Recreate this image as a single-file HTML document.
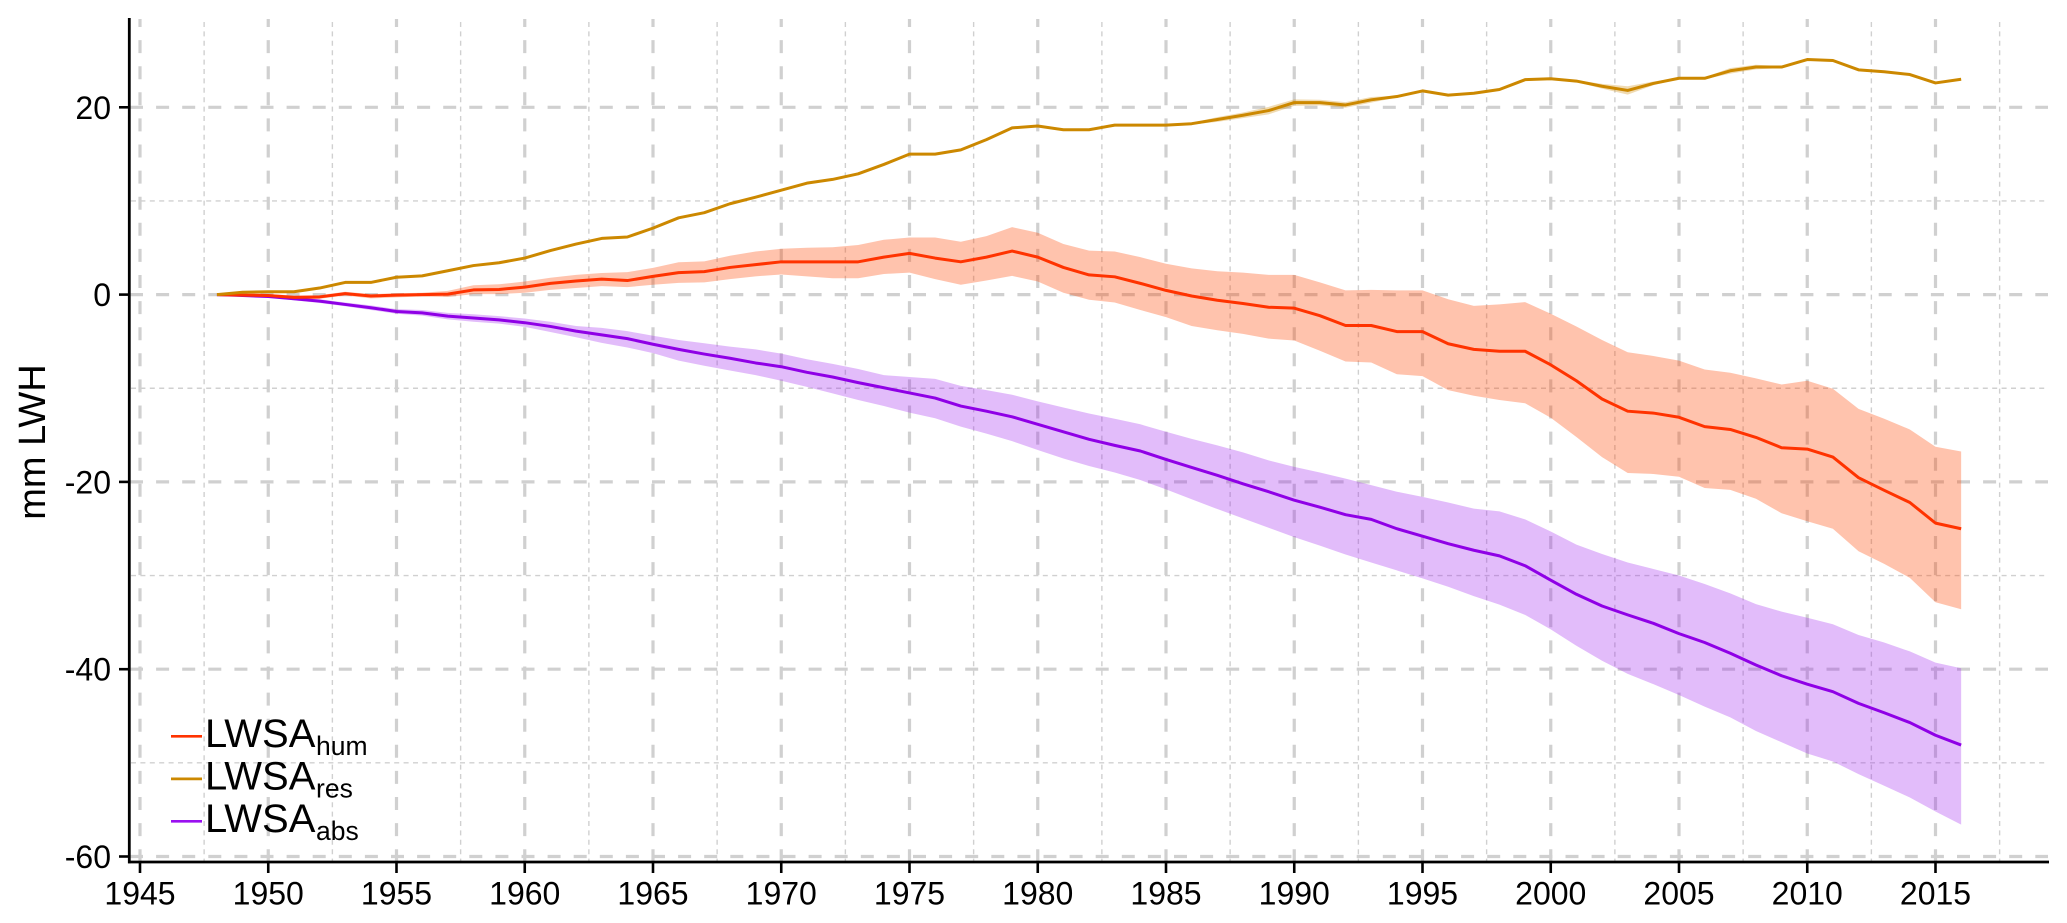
<!DOCTYPE html>
<html lang="en">
<head>
<meta charset="utf-8">
<title>LWSA chart</title>
<style>
html,body{margin:0;padding:0;background:#fff;width:2067px;height:923px;overflow:hidden}
svg{display:block}
text{font-family:"Liberation Sans",Arial,sans-serif;fill:#000}
</style>
</head>
<body>
<svg id="chart" xmlns="http://www.w3.org/2000/svg" width="2067" height="923" viewBox="0 0 2067 923">
  <g id="grid"></g>
  <g id="bands"></g>
  <g id="lines"></g>
  <g id="axes"></g>
  <text transform="translate(45,442) rotate(-90)" text-anchor="middle" font-size="38">mm LWH</text>
  <g>
    <g>
      <line x1="171" x2="202" y1="736.3" y2="736.3" stroke="#ff3300" stroke-width="2.7"/>
      <text x="205" y="747" font-size="40">LWSA</text>
      <text x="316" y="755" font-size="26.5">hum</text>
    </g>
    <g>
      <line x1="171" x2="202" y1="778.9" y2="778.9" stroke="#cc8800" stroke-width="2.7"/>
      <text x="205" y="789.5" font-size="40">LWSA</text>
      <text x="316" y="797.5" font-size="26.5">res</text>
    </g>
    <g>
      <line x1="171" x2="202" y1="821.3" y2="821.3" stroke="#9a10f0" stroke-width="2.7"/>
      <text x="205" y="832" font-size="40">LWSA</text>
      <text x="316" y="840" font-size="26.5">abs</text>
    </g>
  </g>
</svg>
<script>
const years = [1948,1949,1950,1951,1952,1953,1954,1955,1956,1957,1958,1959,1960,1961,1962,1963,1964,1965,1966,1967,1968,1969,1970,1971,1972,1973,1974,1975,1976,1977,1978,1979,1980,1981,1982,1983,1984,1985,1986,1987,1988,1989,1990,1991,1992,1993,1994,1995,1996,1997,1998,1999,2000,2001,2002,2003,2004,2005,2006,2007,2008,2009,2010,2011,2012,2013,2014,2015,2016];

const humMean = [0,-.05,-.1,-.3,-.25,.1,-.15,-.05,0,.05,.5,.55,.8,1.2,1.45,1.65,1.5,1.95,2.35,2.45,2.9,3.2,3.5,3.5,3.5,3.5,4,4.4,3.9,3.5,4,4.65,4,2.9,2.1,1.9,1.2,.45,-.15,-.6,-.95,-1.35,-1.45,-2.25,-3.3,-3.3,-3.95,-3.95,-5.25,-5.85,-6.05,-6.05,-7.5,-9.2,-11.15,-12.45,-12.65,-13.1,-14.1,-14.4,-15.25,-16.35,-16.5,-17.35,-19.55,-20.9,-22.2,-24.4,-25];
const humUpper = [0,.02,.05,-.1,-.05,.3,.05,.15,.2,.4,1,1.1,1.4,1.8,2.1,2.3,2.4,2.85,3.45,3.55,4.15,4.6,4.9,5,5.05,5.3,5.85,6.1,6.1,5.65,6.25,7.2,6.6,5.4,4.7,4.6,4,3.3,2.8,2.5,2.35,2.1,2.1,1.3,.45,.5,.45,.45,-.5,-1.2,-1.05,-.8,-2.05,-3.4,-4.85,-6.15,-6.55,-7.05,-8,-8.35,-8.95,-9.6,-9.2,-10.05,-12.2,-13.25,-14.4,-16.25,-16.75];
const humLower = [0,-.1,-.25,-.5,-.45,-.1,-.4,-.3,-.2,-.25,.05,.05,.2,.5,.7,.9,.8,1.05,1.25,1.3,1.65,1.95,2.15,1.95,1.75,1.75,2.2,2.35,1.65,1.05,1.5,2,1.4,.2,-.55,-.85,-1.65,-2.4,-3.35,-3.8,-4.2,-4.7,-4.9,-6,-7.15,-7.25,-8.5,-8.7,-10.2,-10.8,-11.25,-11.6,-13.15,-15.2,-17.35,-19.05,-19.15,-19.45,-20.65,-20.85,-21.8,-23.35,-24.2,-25,-27.4,-28.75,-30.25,-32.85,-33.6];

const resMean = [0,.25,.3,.3,.7,1.3,1.3,1.85,2,2.55,3.1,3.4,3.9,4.7,5.4,6,6.15,7.1,8.2,8.75,9.7,10.4,11.15,11.9,12.3,12.9,13.9,15,15,15.45,16.55,17.8,18,17.6,17.6,18.1,18.1,18.1,18.25,18.7,19.15,19.65,20.5,20.5,20.25,20.8,21.15,21.75,21.3,21.5,21.9,22.95,23.05,22.8,22.25,21.8,22.55,23.1,23.1,23.9,24.3,24.3,25.1,25,24,23.8,23.5,22.6,23];
const resUpper = [0,.3,.35,.35,.75,1.35,1.35,1.9,2.05,2.6,3.15,3.45,3.95,4.75,5.45,6.05,6.2,7.15,8.25,8.8,9.75,10.45,11.2,11.95,12.35,12.95,13.95,15.1,15.1,15.5,16.6,17.85,18.05,17.65,17.65,18.15,18.15,18.15,18.35,18.95,19.45,20.05,20.85,20.8,20.55,21.1,21.25,21.8,21.4,21.6,21.95,23,23.15,22.9,22.5,22.25,22.75,23.15,23.2,24.2,24.55,24.4,25.2,25.05,24.05,23.85,23.55,22.65,23.05];
const resLower = [0,.2,.25,.25,.65,1.25,1.25,1.8,1.95,2.5,3.05,3.35,3.85,4.65,5.35,5.95,6.1,7.05,8.15,8.7,9.65,10.35,11.1,11.85,12.25,12.85,13.85,14.9,14.9,15.4,16.5,17.75,17.95,17.55,17.55,18.05,18.05,18.05,18.15,18.45,18.85,19.25,20.15,20.2,19.95,20.5,21.05,21.7,21.2,21.4,21.85,22.9,22.95,22.7,22,21.35,22.35,23.05,23,23.6,24.05,24.2,25,24.95,23.95,23.75,23.45,22.55,22.95];

const absMean = [0,-.1,-.2,-.45,-.7,-1.05,-1.4,-1.8,-1.95,-2.3,-2.5,-2.7,-3,-3.4,-3.9,-4.3,-4.7,-5.3,-5.85,-6.35,-6.8,-7.3,-7.7,-8.3,-8.8,-9.4,-9.95,-10.5,-11.05,-11.9,-12.45,-13.05,-13.85,-14.65,-15.45,-16.1,-16.7,-17.6,-18.45,-19.3,-20.2,-21.05,-21.95,-22.7,-23.5,-24,-25,-25.8,-26.6,-27.3,-27.9,-28.95,-30.5,-32,-33.25,-34.2,-35.1,-36.2,-37.15,-38.3,-39.55,-40.7,-41.6,-42.4,-43.65,-44.65,-45.7,-47.05,-48.1];
const absUpper = [0,-.05,-.15,-.3,-.5,-.85,-1.15,-1.55,-1.65,-1.95,-2.1,-2.3,-2.55,-2.9,-3.35,-3.55,-3.9,-4.4,-4.85,-5.2,-5.55,-5.85,-6.3,-6.9,-7.4,-7.95,-8.6,-8.8,-9,-9.75,-10.2,-10.7,-11.4,-12.05,-12.7,-13.25,-13.85,-14.65,-15.4,-16.1,-16.85,-17.7,-18.4,-19,-19.65,-20.35,-21.05,-21.6,-22.2,-22.85,-23.15,-24,-25.3,-26.7,-27.7,-28.6,-29.3,-30,-30.9,-31.9,-33.05,-33.85,-34.5,-35.2,-36.35,-37.15,-38.1,-39.3,-39.9];
const absLower = [0,-.15,-.3,-.6,-.9,-1.25,-1.65,-2.05,-2.25,-2.65,-2.9,-3.1,-3.45,-4,-4.55,-5.15,-5.65,-6.25,-7.05,-7.6,-8.1,-8.6,-9.2,-9.85,-10.55,-11.25,-11.9,-12.6,-13.2,-14.1,-14.85,-15.65,-16.6,-17.5,-18.3,-19,-19.8,-20.8,-21.85,-22.9,-23.9,-24.9,-25.9,-26.8,-27.75,-28.6,-29.45,-30.3,-31.2,-32.2,-33.1,-34.2,-35.75,-37.5,-39.1,-40.5,-41.6,-42.75,-44,-45.15,-46.6,-47.8,-49,-49.85,-51.2,-52.45,-53.7,-55.2,-56.6];

const xTickLabels = [1945,1950,1955,1960,1965,1970,1975,1980,1985,1990,1995,2000,2005,2010,2015];
const xMinorTicks = [1947.5,1952.5,1957.5,1962.5,1967.5,1972.5,1977.5,1982.5,1987.5,1992.5,1997.5,2002.5,2007.5,2012.5,2017.5];
const yTickLabels = [20,0,-20,-40,-60];
const yMinorTicks = [10,-10,-30,-50];

const NS = 'http://www.w3.org/2000/svg';
function xScale(year){ return 140 + (year - 1945) * 25.65; }
function yScale(v){ return 294.6 - v * 9.365; }

function mk(parent, tag, attrs){
  const el = document.createElementNS(NS, tag);
  for (const k in attrs) el.setAttribute(k, attrs[k]);
  parent.appendChild(el);
  return el;
}
function linePath(vals){
  return vals.map((v,i)=>(i?'L':'M')+xScale(years[i]).toFixed(2)+' '+yScale(v).toFixed(2)).join('');
}
function bandPath(up, lo){
  const a = up.map((v,i)=>(i?'L':'M')+xScale(years[i]).toFixed(2)+' '+yScale(v).toFixed(2)).join('');
  let b = '';
  for (let i = lo.length - 1; i >= 0; i--) b += 'L'+xScale(years[i]).toFixed(2)+' '+yScale(lo[i]).toFixed(2);
  return a + b + 'Z';
}

const gridG = document.getElementById('grid');
const bandsG = document.getElementById('bands');
const linesG = document.getElementById('lines');
const axesG = document.getElementById('axes');
const GRID = '#d0d0d0';

xMinorTicks.forEach(t => {
  const el = mk(gridG, 'line', {x1:xScale(t), x2:xScale(t), y1:22, y2:861, stroke:GRID, 'stroke-width':1.4, 'stroke-dasharray':'5 4.4'});
  
  
});
yMinorTicks.forEach(t => {
  const el = mk(gridG, 'line', {x1:131, x2:2048, y1:yScale(t), y2:yScale(t), stroke:GRID, 'stroke-width':1.4, 'stroke-dasharray':'5 4.4'});
  
  
});
xTickLabels.forEach(t => {
  const el = mk(gridG, 'line', {x1:xScale(t), x2:xScale(t), y1:19, y2:861, stroke:GRID, 'stroke-width':3.2, 'stroke-dasharray':'13 13.1', 'stroke-dashoffset':5});
  
  
});
yTickLabels.forEach(t => {
  const el = mk(gridG, 'line', {x1:130, x2:2048, y1:yScale(t), y2:yScale(t), stroke:GRID, 'stroke-width':3.2, 'stroke-dasharray':'13 13.1'});
  
  
});

const bandAbs = mk(bandsG, 'path', {d:bandPath(absUpper, absLower), fill:'#a020f0', 'fill-opacity':0.3});


const bandHum = mk(bandsG, 'path', {d:bandPath(humUpper, humLower), fill:'#ff4500', 'fill-opacity':0.32});


const bandRes = mk(bandsG, 'path', {d:bandPath(resUpper, resLower), fill:'#cc8800', 'fill-opacity':0.3});



const lineAbs = mk(linesG, 'path', {d:linePath(absMean), fill:'none', stroke:'#8f00e6', 'stroke-width':3, 'stroke-linejoin':'round'});


const lineHum = mk(linesG, 'path', {d:linePath(humMean), fill:'none', stroke:'#ff3300', 'stroke-width':3, 'stroke-linejoin':'round'});


const lineRes = mk(linesG, 'path', {d:linePath(resMean), fill:'none', stroke:'#cc8800', 'stroke-width':3, 'stroke-linejoin':'round'});



const ySpine = mk(axesG, 'line', {x1:129.3, x2:129.3, y1:18, y2:863.2, stroke:'#000', 'stroke-width':2.8});


const xSpine = mk(axesG, 'line', {x1:128, x2:2049, y1:862, y2:862, stroke:'#000', 'stroke-width':2.8});



xTickLabels.forEach(t => {
  const tick = mk(axesG, 'line', {x1:xScale(t), x2:xScale(t), y1:862, y2:873, stroke:'#000', 'stroke-width':2.6});
  
  
  const lab = mk(axesG, 'text', {x:xScale(t), y:904.5, 'text-anchor':'middle', 'font-size':32});
  lab.textContent = t;
  
  
});
yTickLabels.forEach(t => {
  const tick = mk(axesG, 'line', {x1:119, x2:129, y1:yScale(t), y2:yScale(t), stroke:'#000', 'stroke-width':2.6});
  
  
  const lab = mk(axesG, 'text', {x:111, y:yScale(t)+11.5, 'text-anchor':'end', 'font-size':32});
  lab.textContent = t;
  
  
});
</script>
</body>
</html>
